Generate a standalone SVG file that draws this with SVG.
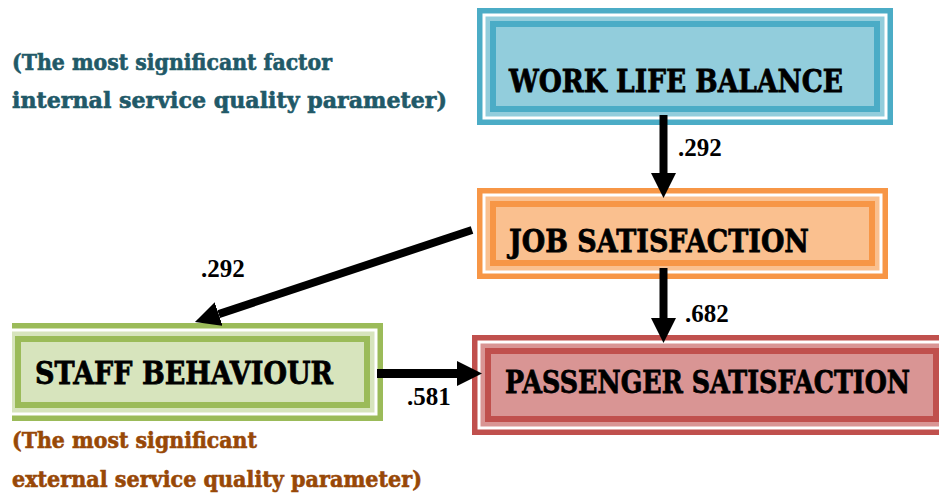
<svg xmlns="http://www.w3.org/2000/svg" width="939" height="493" viewBox="0 0 939 493">
  <style>
    .box-title { font-family: "DejaVu Serif", "Liberation Serif", serif; font-weight: bold; font-size: 32px; fill: #000; stroke: #000; stroke-width: 0.8; }
    .coef { font-family: "Liberation Serif", "Times New Roman", serif; font-weight: bold; font-size: 25px; fill: #000; }
    .note { font-family: "DejaVu Serif", "Liberation Serif", serif; font-weight: bold; font-size: 22px; stroke-width: 0.6; }
    .note-int { fill: #215968; stroke: #215968; }
    .note-ext { fill: #984807; stroke: #984807; }
    .wht { fill: #fff; }
    .link { stroke: #000; stroke-width: 8; fill: none; marker-end: url(#head); }
  </style>
  <defs>
    <marker id="head" viewBox="0 0 25 25" refX="0" refY="12.5" markerWidth="25" markerHeight="25" markerUnits="userSpaceOnUse" orient="auto">
      <path d="M0,0 L25,12.5 L0,25 Z" fill="#000"/>
    </marker>
    <!-- page margins: frames that run past the printable area are trimmed -->
    <clipPath id="leftEdge">
      <rect x="12" y="0" width="927" height="493"/>
    </clipPath>
    <clipPath id="rightEdge">
      <rect x="0" y="0" width="939" height="493"/>
    </clipPath>
  </defs>

  <rect width="939" height="493" fill="#fff"/>

  <!-- Work life balance -->
  <g id="work-life-balance">
    <rect x="477" y="8" width="416" height="117" fill="#4BACC6"/>
    <rect class="wht" x="482.5" y="13.5" width="405" height="106"/>
    <rect x="485.5" y="16.5" width="399" height="100" fill="#92CDDC"/>
    <rect x="490" y="21" width="390" height="91" fill="#4BACC6"/>
    <rect x="496" y="27" width="378" height="79" fill="#92CDDC"/>
    <text class="box-title" x="509" y="92" textLength="334" lengthAdjust="spacingAndGlyphs">WORK LIFE BALANCE</text>
  </g>

  <!-- Job satisfaction -->
  <g id="job-satisfaction">
    <rect x="477" y="188" width="411" height="91" fill="#F79646"/>
    <rect class="wht" x="482.5" y="193.5" width="400" height="80"/>
    <rect x="485.5" y="196.5" width="394" height="74" fill="#FAC08F"/>
    <rect x="490" y="201" width="385" height="65" fill="#F79646"/>
    <rect x="496" y="207" width="373" height="53" fill="#FAC08F"/>
    <text class="box-title" x="509" y="252" textLength="300" lengthAdjust="spacingAndGlyphs">JOB SATISFACTION</text>
  </g>

  <!-- Staff behaviour (left edge trimmed) -->
  <g id="staff-behaviour">
    <g clip-path="url(#leftEdge)">
      <rect x="2" y="323" width="381" height="98" fill="#9BBB59"/>
      <rect class="wht" x="7.5" y="328.5" width="370" height="87"/>
      <rect x="10.5" y="331.5" width="364" height="81" fill="#D7E4BD"/>
      <rect x="15" y="336" width="355" height="72" fill="#9BBB59"/>
      <rect x="21" y="342" width="343" height="60" fill="#D7E4BD"/>
    </g>
    <text class="box-title" x="35" y="384" textLength="298" lengthAdjust="spacingAndGlyphs">STAFF BEHAVIOUR</text>
  </g>

  <!-- Passenger satisfaction (right edge trimmed) -->
  <g id="passenger-satisfaction">
    <g clip-path="url(#rightEdge)">
      <rect x="472" y="335" width="467" height="100" fill="#C0504D"/>
      <rect class="wht" x="477.5" y="340.5" width="461.5" height="89"/>
      <rect x="480.5" y="343.5" width="458.5" height="83" fill="#D99594"/>
      <rect x="485" y="348" width="454" height="74" fill="#C0504D"/>
      <rect x="491" y="354" width="442" height="62" fill="#D99594"/>
    </g>
    <text class="box-title" x="505" y="393" textLength="405" lengthAdjust="spacingAndGlyphs">PASSENGER SATISFACTION</text>
  </g>

  <!-- Notes -->
  <g id="note-internal">
    <text class="note note-int" x="12" y="70" textLength="320" lengthAdjust="spacingAndGlyphs">(The most significant factor</text>
    <text class="note note-int" x="12" y="108" textLength="435" lengthAdjust="spacingAndGlyphs">internal service quality parameter)</text>
  </g>
  <g id="note-external">
    <text class="note note-ext" x="12" y="448" textLength="245" lengthAdjust="spacingAndGlyphs">(The most significant</text>
    <text class="note note-ext" x="12" y="487" textLength="410" lengthAdjust="spacingAndGlyphs">external service quality parameter)</text>
  </g>

  <!-- Paths with coefficients -->
  <g id="connectors">
    <line class="link" x1="663.5" y1="115" x2="663.5" y2="173"/>
    <line class="link" x1="663.5" y1="268" x2="663.5" y2="318"/>
    <line class="link" x1="472" y1="230" x2="218.7" y2="314.1"/>
    <line class="link" x1="377" y1="373.5" x2="457" y2="373.5" style="stroke-width:9"/>
    <text class="coef" x="678" y="156">.292</text>
    <text class="coef" x="685" y="322">.682</text>
    <text class="coef" x="201" y="277">.292</text>
    <text class="coef" x="407" y="405">.581</text>
  </g>
</svg>
